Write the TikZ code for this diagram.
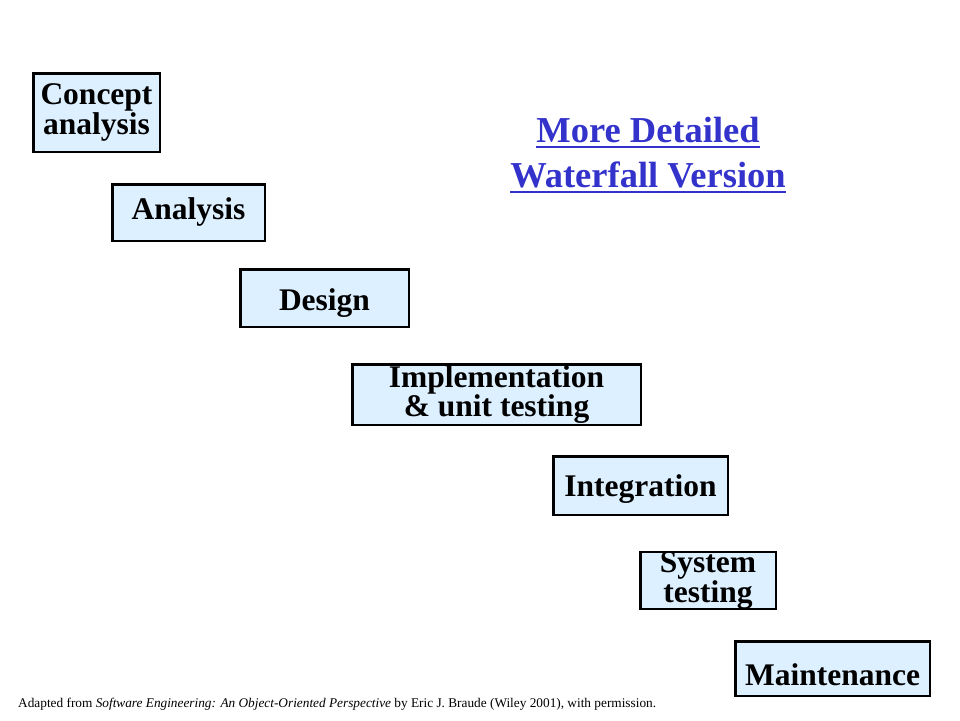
\documentclass[tikz,border=0pt]{standalone}
\usepackage{fontspec}
\setmainfont{Liberation Serif}
\usetikzlibrary{positioning}

\definecolor{boxfill}{HTML}{DDF0FF}
\definecolor{titleblue}{HTML}{3333CC}

\tikzset{
  phase/.style={draw=black, line width=2.5pt, fill=boxfill, inner sep=0pt,
    align=center, font=\bfseries\fontsize{31.5}{30}\selectfont},
  tight/.style={font=\bfseries\fontsize{31.5}{23}\selectfont},
  heading/.style={inner sep=0pt, anchor=base, text=titleblue,
    font=\bfseries\fontsize{36.5}{45}\selectfont},
}

\begin{document}
\begin{tikzpicture}[x=1pt, y=-1pt]

\useasboundingbox (0,0) rectangle (960,720);

%% the phases
\node[phase, minimum width=126.5pt, minimum height=78.5pt] (concept) at (96.5,112.5) {Concept\\analysis};

\node[phase, minimum width=152.5pt, minimum height=56.5pt, text height=13pt, text depth=0pt] (analysis) at (188.5,212.5) {Analysis};

\node[phase, minimum width=168.5pt, minimum height=57.5pt, text height=24pt, text depth=0pt] (design) at (324.5,298) {Design};

\node[phase, tight, minimum width=288.5pt, minimum height=60.5pt] (impl) at (496.5,394.5) {Implementation\\\& unit testing};

\node[phase, minimum width=174.5pt, minimum height=58.5pt, text height=22pt, text depth=0pt] (integ) at (640.5,485.5) {Integration};

\node[phase, tight, minimum width=135.5pt, minimum height=54.5pt] (systest) at (708,580.5) {System\\testing};

\node[phase, minimum width=194.5pt, minimum height=54.5pt, text height=34pt, text depth=0pt] (maint) at (832.5,668.5) {Maintenance};

%% title
\node[heading] (title1) at (648,142) {More Detailed};
\node[heading] (title2) at (648,187) {Waterfall Version};

\draw[titleblue, line width=2pt] ([yshift=-5pt]title1.base west) -- ([yshift=-5pt]title1.base east);
\draw[titleblue, line width=2pt] ([yshift=-5pt]title2.base west) -- ([yshift=-5pt]title2.base east);

%% source
\node[inner sep=0pt, anchor=base west, font=\fontsize{13.3}{15}\selectfont] (source) at (18,707)
  {Adapted from \textit{Software Engineering: An Object-Oriented Perspective} by Eric J. Braude (Wiley 2001), with permission.};

\end{tikzpicture}
\end{document}
